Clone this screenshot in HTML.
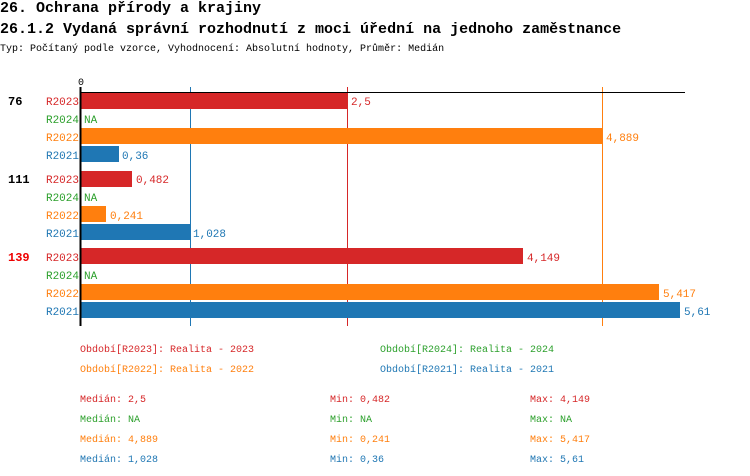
<!DOCTYPE html>
<html><head><meta charset="utf-8"><style>
body{margin:0;width:750px;height:476px;background:#fff;overflow:hidden;font-family:"Liberation Mono",monospace;}
.t{position:absolute;white-space:nowrap;}
</style></head><body>
<div class="t" style="left:0;top:0;font-size:15px;font-weight:bold;line-height:17px">26. Ochrana přírody a krajiny</div>
<div class="t" style="left:0;top:21px;font-size:15px;font-weight:bold;line-height:17px">26.1.2 Vydaná správní rozhodnutí z moci úřední na jednoho zaměstnance</div>
<div class="t" style="left:0;top:44px;font-size:10px;line-height:12px">Typ: Počítaný podle vzorce, Vyhodnocení: Absolutní hodnoty, Průměr: Medián</div>
<svg width="750" height="476" style="position:absolute;left:0;top:0" font-family="Liberation Mono, monospace" font-size="11">
<text x="78" y="85" font-size="10">0</text>
<g shape-rendering="crispEdges">
<line x1="347.5" y1="87" x2="347.5" y2="326" stroke="#d62728" stroke-width="1"/>
<line x1="190.5" y1="87" x2="190.5" y2="326" stroke="#1f77b4" stroke-width="1"/>
<line x1="602.5" y1="87" x2="602.5" y2="326" stroke="#ff7f0e" stroke-width="1"/>
<rect x="81" y="93" width="266" height="16" fill="#d62728"/>
<rect x="81" y="128" width="521" height="16" fill="#ff7f0e"/>
<rect x="81" y="146" width="38" height="16" fill="#1f77b4"/>
<rect x="81" y="171" width="51" height="16" fill="#d62728"/>
<rect x="81" y="206" width="25" height="16" fill="#ff7f0e"/>
<rect x="81" y="224" width="109" height="16" fill="#1f77b4"/>
<rect x="81" y="248" width="442" height="16" fill="#d62728"/>
<rect x="81" y="284" width="578" height="16" fill="#ff7f0e"/>
<rect x="81" y="302" width="599" height="16" fill="#1f77b4"/>
<line x1="80" y1="92.5" x2="685" y2="92.5" stroke="#000" stroke-width="1"/>
<line x1="80.5" y1="87" x2="80.5" y2="326" stroke="#000" stroke-width="2"/>
</g>
<g font-weight="bold" font-size="12">
<text x="8" y="105">76</text><text x="8" y="183">111</text><text x="8" y="261" fill="#e00">139</text>
</g>
<g text-anchor="end">
<text x="79" y="105" fill="#d62728">R2023</text><text x="79" y="123" fill="#2ca02c">R2024</text><text x="79" y="141" fill="#ff7f0e">R2022</text><text x="79" y="159" fill="#1f77b4">R2021</text>
<text x="79" y="183" fill="#d62728">R2023</text><text x="79" y="201" fill="#2ca02c">R2024</text><text x="79" y="219" fill="#ff7f0e">R2022</text><text x="79" y="237" fill="#1f77b4">R2021</text>
<text x="79" y="261" fill="#d62728">R2023</text><text x="79" y="279" fill="#2ca02c">R2024</text><text x="79" y="297" fill="#ff7f0e">R2022</text><text x="79" y="315" fill="#1f77b4">R2021</text>
</g>
<g>
<text x="351" y="105" fill="#d62728">2,5</text><text x="84" y="123" fill="#2ca02c">NA</text><text x="606" y="141" fill="#ff7f0e">4,889</text><text x="122" y="159" fill="#1f77b4">0,36</text>
<text x="136" y="183" fill="#d62728">0,482</text><text x="84" y="201" fill="#2ca02c">NA</text><text x="110" y="219" fill="#ff7f0e">0,241</text><text x="193" y="237" fill="#1f77b4">1,028</text>
<text x="527" y="261" fill="#d62728">4,149</text><text x="84" y="279" fill="#2ca02c">NA</text><text x="663" y="297" fill="#ff7f0e">5,417</text><text x="684" y="315" fill="#1f77b4">5,61</text>
</g>
<g font-size="10">
<text x="80" y="352" fill="#d62728">Období[R2023]: Realita - 2023</text>
<text x="380" y="352" fill="#2ca02c">Období[R2024]: Realita - 2024</text>
<text x="80" y="372" fill="#ff7f0e">Období[R2022]: Realita - 2022</text>
<text x="380" y="372" fill="#1f77b4">Období[R2021]: Realita - 2021</text>
<text x="80" y="402" fill="#d62728">Medián: 2,5</text><text x="330" y="402" fill="#d62728">Min: 0,482</text><text x="530" y="402" fill="#d62728">Max: 4,149</text>
<text x="80" y="422" fill="#2ca02c">Medián: NA</text><text x="330" y="422" fill="#2ca02c">Min: NA</text><text x="530" y="422" fill="#2ca02c">Max: NA</text>
<text x="80" y="442" fill="#ff7f0e">Medián: 4,889</text><text x="330" y="442" fill="#ff7f0e">Min: 0,241</text><text x="530" y="442" fill="#ff7f0e">Max: 5,417</text>
<text x="80" y="462" fill="#1f77b4">Medián: 1,028</text><text x="330" y="462" fill="#1f77b4">Min: 0,36</text><text x="530" y="462" fill="#1f77b4">Max: 5,61</text>
</g>
</svg>
</body></html>
